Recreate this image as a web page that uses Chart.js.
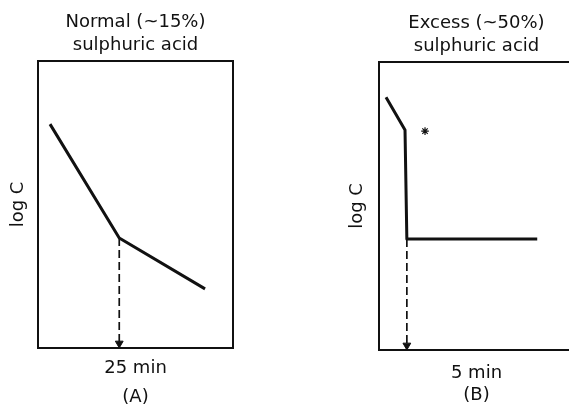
<!DOCTYPE html>
<html><head><meta charset="utf-8">
<script src="https://cdn.jsdelivr.net/npm/chart.js@4.4.1/dist/chart.umd.min.js"></script>
<style>
html,body{margin:0;padding:0;background:#fff;overflow:hidden;width:569px;height:408px;}
#wa{position:absolute;left:0;top:0;width:285px;height:408px;}
#wb{position:absolute;left:285px;top:0;width:300px;height:408px;}
canvas{display:block;}
</style></head><body>
<div id="wa"><canvas id="ca" width="285" height="408"></canvas></div>
<div id="wb"><canvas id="cb" width="300" height="408"></canvas></div>
<script>
// ---- text ----
const titleA = ['Normal (~15%)', 'sulphuric acid'];
const titleB = ['Excess (~50%)', 'sulphuric acid'];
const panelA = '(A)';
const panelB = '(B)';
const xLabelA = '25 min';
const xLabelB = '5 min';
const yLabel = 'log C';

// ---- panel A: time (min) vs log C (arbitrary units) ----
const timeA = [3.7, 25, 51.4];
const logCA = [7.8, 3.83, 2.06];
const arrowTimeA = [25, 25];
const arrowLogCA = [3.83, 0.16];
const xRangeA = [0, 60];

// ---- panel B ----
const timeB = [1.26, 4.67, 5.0, 28.4];
const logCB = [8.78, 7.64, 3.85, 3.85];
const arrowTimeB = [5.0, 5.0];
const arrowLogCB = [3.85, 0.16];
const starTimeB = [8.26];
const starLogCB = [7.6];
const xRangeB = [0, 35];
const yRange = [0, 10];

const INK = '#111';
Chart.defaults.font.family = "'DejaVu Sans', sans-serif";
Chart.defaults.color = INK;

const pts = (xs, ys) => xs.map((x, i) => ({x, y: ys[i]}));

const framePlugin = {
  id: 'frame',
  beforeDatasetsDraw(chart) {
    const {ctx, chartArea: a} = chart;
    ctx.save();
    ctx.strokeStyle = INK;
    ctx.lineWidth = 2;
    ctx.strokeRect(a.left, a.top, a.right - a.left, a.bottom - a.top);
    ctx.restore();
  }
};

function curveDs(data) {
  return {data, showLine: true, borderColor: INK, borderWidth: 3, pointRadius: 0,
    tension: 0, borderJoinStyle: 'round', borderCapStyle: 'butt'};
}
function arrowDs(data) {
  return {data, showLine: true, borderColor: INK, borderWidth: 1.7, borderDash: [8, 4],
    pointRadius: [0, 4.5], pointStyle: 'triangle', pointRotation: 180,
    pointBackgroundColor: INK, pointBorderColor: INK, pointBorderWidth: 1, tension: 0};
}

function makeChart(id, datasets, xr, title, sub, xLab, o) {
  return new Chart(document.getElementById(id), {
    type: 'scatter',
    data: {datasets},
    plugins: [framePlugin],
    options: {
      responsive: false, animation: false, devicePixelRatio: 1,
      layout: {padding: o.layout},
      plugins: {
        legend: {display: false}, tooltip: {enabled: false},
        title: {display: true, text: title, fullSize: false, color: INK,
          font: {size: 18, weight: 'normal', lineHeight: 1.278}, padding: o.title},
        subtitle: {display: true, text: sub, position: 'bottom', fullSize: false, color: INK,
          font: {size: 18, weight: 'normal', lineHeight: 1.2}, padding: o.sub}
      },
      scales: {
        x: {type: 'linear', min: xr[0], max: xr[1],
          grid: {display: false, drawTicks: false}, ticks: {display: false}, border: {display: false},
          title: {display: true, text: xLab, color: INK, font: {size: 18, lineHeight: 1.2}, padding: o.xt}},
        y: {type: 'linear', min: yRange[0], max: yRange[1],
          grid: {display: false, drawTicks: false}, ticks: {display: false}, border: {display: false},
          title: {display: true, text: yLabel, color: INK, font: {size: 18, lineHeight: 1.2}, padding: o.yt}}
      }
    }
  });
}

makeChart('ca', [
  curveDs(pts(timeA, logCA)),
  arrowDs(pts(arrowTimeA, arrowLogCA))
], xRangeA, titleA, panelA, xLabelA, {
  layout: {left: 5.2, right: 52, top: 0, bottom: 0},
  title: {top: 10.5, bottom: 4.5},
  sub: {top: 7.4, bottom: 0.2},
  xt: {top: 9.2, bottom: 0},
  yt: {top: 2, bottom: 9.2}
});

makeChart('cb', [
  curveDs(pts(timeB, logCB)),
  arrowDs(pts(arrowTimeB, arrowLogCB)),
  {data: pts(starTimeB, starLogCB), pointStyle: 'star', pointRadius: 3.8,
   borderColor: INK, pointBorderWidth: 1.2, showLine: false}
], xRangeB, titleB, panelB, xLabelB, {
  layout: {left: 59.2, right: 11, top: 0, bottom: 0},
  title: {top: 11.5, bottom: 4.5},
  sub: {top: 0.4, bottom: 2.2},
  xt: {top: 12.2, bottom: 0},
  yt: {top: 2, bottom: 11.2}
});
</script>
</body></html>
